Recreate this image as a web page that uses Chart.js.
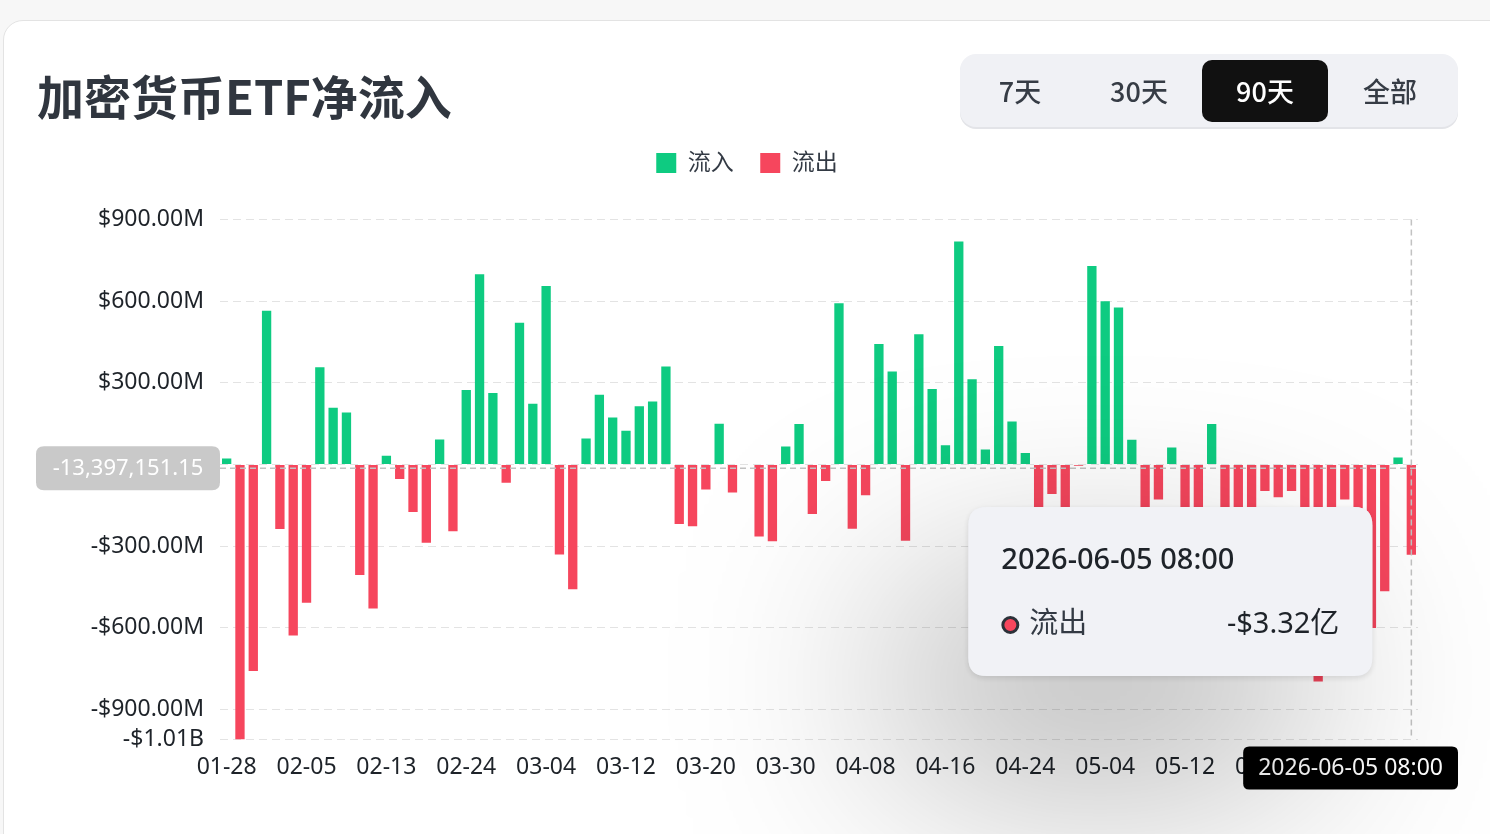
<!DOCTYPE html>
<html lang="zh-CN">
<head>
<meta charset="utf-8">
<title>加密货币ETF净流入</title>
<script src="https://cdn.jsdelivr.net/npm/chart.js@4.4.1/dist/chart.umd.min.js"></script>
<style>
  html, body { margin: 0; padding: 0; }
  body {
    width: 1490px; height: 834px; overflow: hidden; position: relative;
    background: #f7f7f7;
    font-family: "Noto Sans CJK SC", "Noto Sans", sans-serif;
  }
  .card {
    position: absolute; left: 3px; top: 20px; width: 1530px; height: 870px;
    background: #fff; border: 1.5px solid #e3e3e3; border-radius: 20px; box-sizing: border-box;
  }
  .title {
    position: absolute; left: 37px; top: 71px; margin: 0;
    font-size: 47px; line-height: 47px; font-weight: 700; color: #30363f;
    z-index: 2;
  }
  .range {
    position: absolute; left: 960px; top: 54px; width: 498px; height: 73px;
    background: #f0f1f5; border-radius: 16px; box-shadow: 0 2px 0 #e3e4e8; z-index: 2;
  }
  .range span {
    position: absolute; top: 0; width: 120px; height: 73px; line-height: 73px;
    text-align: center; font-size: 27px; font-weight: 500; color: #363c45;
  }
  .range span.on {
    top: 6px; width: 126px; height: 62px; line-height: 62px;
    background: #111; color: #fff; border-radius: 10px;
  }
  #wrap { position: absolute; left: 0; top: 0; width: 1490px; height: 834px; z-index: 1; }
</style>
</head>
<body>
<div class="card"></div>
<h1 class="title">加密货币ETF净流入</h1>
<div class="range">
  <span style="left:0px">7天</span>
  <span style="left:119px">30天</span>
  <span class="on" style="left:242px">90天</span>
  <span style="left:370px">全部</span>
</div>
<div id="wrap"><canvas id="etfFlow"></canvas></div>

<script>
// 交易日 (2026)
var year = '2026';
var timeOfDay = '08:00';
var dates = [
  '01-28','01-29','01-30',
  '02-02','02-03','02-04','02-05','02-06',
  '02-09','02-10','02-11','02-12','02-13',
  '02-17','02-18','02-19','02-20',
  '02-23','02-24','02-25','02-26','02-27',
  '03-02','03-03','03-04','03-05','03-06',
  '03-09','03-10','03-11','03-12','03-13',
  '03-16','03-17','03-18','03-19','03-20',
  '03-23','03-24','03-25','03-26','03-27',
  '03-30','03-31','04-01','04-02',
  '04-06','04-07','04-08','04-09','04-10',
  '04-13','04-14','04-15','04-16','04-17',
  '04-20','04-21','04-22','04-23','04-24',
  '04-27','04-28','04-29','04-30','05-01',
  '05-04','05-05','05-06','05-07','05-08',
  '05-11','05-12','05-13','05-14','05-15',
  '05-18','05-19','05-20','05-21','05-22',
  '05-26','05-27','05-28','05-29',
  '06-01','06-02','06-03','06-04','06-05'
];

// 每日净流入, 单位: 百万美元
var netFlow = [
   22, -1010, -759,  565, -237, -628, -508,  357,  208,  191,
 -406,  -529,   32,  -53, -175, -288,   92, -245,  274,  699,
  263,   -67,  521,  223,  656, -331, -458,   95,  256,  173,
  124,   214,  231,  360, -219, -227,  -92,  150, -103,    2,
 -265,  -282,   66,  149, -182,  -61,  592, -236, -113,  443,
  342,  -280,  478,  277,   71,  819,  313,   55,  435,  158,
   42,  -250, -108, -215,   -5,  729,  600,  577,   91, -320,
 -129,    62, -285, -195,  149, -240, -350, -270,  -97, -120,
  -97,  -410, -797, -300, -129, -520, -601, -466,   26, -332
];

var seriesNames = ['流入', '流出'];
var seriesColors = ['#0ecb81', '#f6465d'];
var yMax = 900;
var yStep = 300;
var tickEvery = 6;

// 当前悬停的位置
var hoverIndex = 89;
var crosshairValue = -13397151.15;

var inflow = netFlow.map(function(v) { return v >= 0 ? v : null; });
var outflow = netFlow.map(function(v) { return v < 0 ? v : null; });

function fmtAxis(v) {
  var a = Math.abs(v);
  var s = a >= 1000 ? (a / 1000).toFixed(2) + 'B' : a.toFixed(2) + 'M';
  return (v < 0 ? '-$' : '$') + s;
}

function fmtYi(v) {
  var a = Math.abs(v) / 100;
  return (v < 0 ? '-$' : '$') + a.toFixed(2) + '亿';
}

function roundRect(ctx, x, y, w, h, r) {
  ctx.beginPath();
  ctx.moveTo(x + r, y);
  ctx.lineTo(x + w - r, y);
  ctx.quadraticCurveTo(x + w, y, x + w, y + r);
  ctx.lineTo(x + w, y + h - r);
  ctx.quadraticCurveTo(x + w, y + h, x + w - r, y + h);
  ctx.lineTo(x + r, y + h);
  ctx.quadraticCurveTo(x, y + h, x, y + h - r);
  ctx.lineTo(x, y + r);
  ctx.quadraticCurveTo(x, y, x + r, y);
  ctx.closePath();
}

var FONT = "'Noto Sans', 'Noto Sans CJK SC', sans-serif";
Chart.defaults.font.family = FONT;

// 十字线 + 提示框
var crosshair = {
  id: 'crosshair',
  afterDatasetsDraw: function(chart) {
    var ctx = chart.ctx, ca = chart.chartArea;
    var bx = chart.scales.x.getPixelForValue(hoverIndex);
    var cy = chart.scales.y.getPixelForValue(crosshairValue / 1e6);
    ctx.save();
    ctx.strokeStyle = '#c2c2c2';
    ctx.lineWidth = 1.5;
    ctx.setLineDash([6, 4]);
    ctx.beginPath();
    ctx.moveTo(bx, ca.top); ctx.lineTo(bx, ca.bottom);
    ctx.moveTo(ca.left, cy); ctx.lineTo(ca.right, cy);
    ctx.stroke();
    ctx.restore();
  },
  afterDraw: function(chart) {
    var ctx = chart.ctx, ca = chart.chartArea;
    var bx = chart.scales.x.getPixelForValue(hoverIndex);
    var cy = chart.scales.y.getPixelForValue(crosshairValue / 1e6);
    var value = netFlow[hoverIndex];
    var title = year + '-' + dates[hoverIndex] + ' ' + timeOfDay;

    ctx.save();
    // y 轴上的数值标签
    roundRect(ctx, 36, cy - 22, ca.left - 36, 44, 8);
    ctx.fillStyle = '#c9c9c9';
    ctx.fill();
    ctx.fillStyle = '#fff';
    ctx.font = '22px ' + FONT;
    ctx.textAlign = 'center';
    ctx.textBaseline = 'middle';
    ctx.fillText(crosshairValue.toLocaleString('en-US', {minimumFractionDigits: 2, maximumFractionDigits: 2}), (36 + ca.left) / 2, cy + 1);

    // x 轴上的日期标签
    ctx.font = '23px ' + FONT;
    var tw = ctx.measureText(title).width + 30;
    var lx = Math.min(bx, chart.width - 32 - tw / 2);
    roundRect(ctx, lx - tw / 2, ca.bottom + 7, tw, 43, 6);
    ctx.fillStyle = '#000';
    ctx.fill();
    ctx.fillStyle = '#fff';
    ctx.fillText(title, lx, ca.bottom + 29);

    // 提示框
    var tl = bx - 443, tt = 507, tW = 404, tH = 169;
    ctx.save();
    ctx.shadowColor = 'rgba(0,0,0,0.36)';
    ctx.shadowBlur = 220;
    ctx.shadowOffsetX = -70;
    ctx.shadowOffsetY = 90;
    roundRect(ctx, tl, tt, tW, tH, 18);
    ctx.fillStyle = '#f1f2f6';
    ctx.fill();
    ctx.restore();
    ctx.save();
    ctx.shadowColor = 'rgba(0,0,0,0.12)';
    ctx.shadowBlur = 6;
    ctx.shadowOffsetY = 2;
    roundRect(ctx, tl, tt, tW, tH, 18);
    ctx.fillStyle = '#f1f2f6';
    ctx.fill();
    ctx.restore();

    ctx.textAlign = 'left';
    ctx.textBaseline = 'middle';
    ctx.fillStyle = '#1e2329';
    ctx.font = '500 29px ' + FONT;
    ctx.fillText(title, tl + 33, tt + 54);

    var ry = tt + 118;
    ctx.beginPath();
    ctx.arc(tl + 42, ry, 7.5, 0, Math.PI * 2);
    ctx.fillStyle = value < 0 ? seriesColors[1] : seriesColors[0];
    ctx.fill();
    ctx.lineWidth = 3;
    ctx.strokeStyle = '#2b3139';
    ctx.stroke();

    ctx.fillStyle = '#333a44';
    ctx.font = '29px ' + FONT;
    ctx.fillText(value < 0 ? seriesNames[1] : seriesNames[0], tl + 61, ry);
    ctx.textAlign = 'right';
    ctx.fillStyle = '#1e2329';
    ctx.fillText(fmtYi(value), tl + 371, ry);
    ctx.restore();
  }
};

var ctxBar = document.getElementById('etfFlow').getContext('2d');
var configs = {
  type: 'bar',
  data: {
    labels: dates,
    datasets: [
      { label: seriesNames[0], data: inflow, backgroundColor: seriesColors[0], borderWidth: 0 },
      { label: seriesNames[1], data: outflow, backgroundColor: seriesColors[1], borderWidth: 0 }
    ]
  },
  options: {
    responsive: true,
    maintainAspectRatio: false,
    animation: false,
    events: [],
    barPercentage: 0.7,
    categoryPercentage: 1.0,
    layout: { padding: { left: 76, right: 72, top: 125, bottom: 39 } },
    plugins: {
      legend: {
        position: 'top',
        labels: { boxWidth: 20, boxHeight: 20, padding: 26.5, color: '#333a44', font: { size: 23 } }
      },
      subtitle: {
        display: true, text: '', weight: 100,
        font: { size: 1, lineHeight: 1 }, padding: { top: 0, bottom: 34 }
      },
      tooltip: { enabled: false }
    },
    scales: {
      x: {
        stacked: true,
        grid: { display: false, drawTicks: false },
        border: { display: false },
        ticks: {
          autoSkip: false, maxRotation: 0, minRotation: 0, padding: 14,
          color: '#1e2329', font: { size: 23 },
          callback: function(v, i) { return i % tickEvery === 0 ? dates[i] : ''; }
        }
      },
      y: {
        stacked: true,
        min: Math.min.apply(null, netFlow),
        max: yMax,
        grid: { color: '#e3e3e3', lineWidth: 1, drawTicks: false },
        border: { display: false, dash: [8, 5] },
        ticks: {
          stepSize: yStep, autoSkip: false, padding: 16,
          color: '#1e2329', font: { size: 23 },
          callback: fmtAxis
        },
        afterFit: function(scale) { scale.width = 144; }
      }
    }
  },
  plugins: [crosshair]
};
var barChart = new Chart(ctxBar, configs);
</script>
</body>
</html>
